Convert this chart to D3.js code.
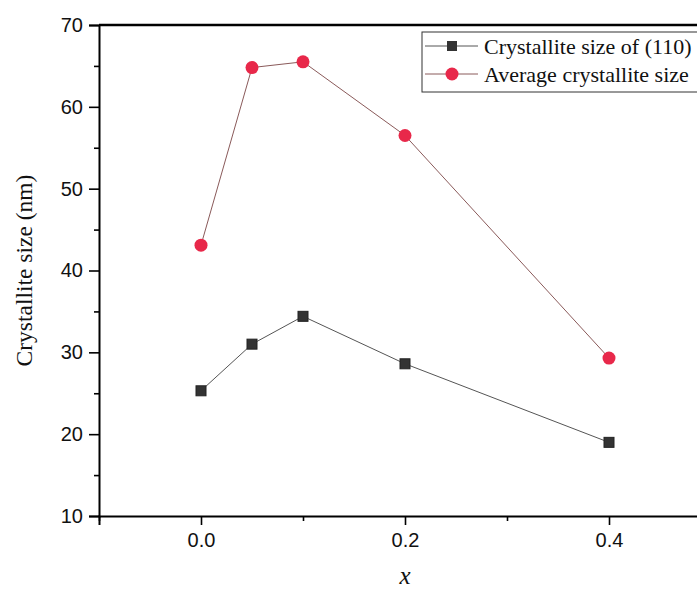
<!DOCTYPE html>
<html><head><meta charset="utf-8">
<script src="https://cdn.jsdelivr.net/npm/d3@7"></script>
<style>body{margin:0;background:#fff}svg{display:block}</style>
</head><body><svg id="c" width="697" height="590"></svg>
<script>
const xValues = [0.0, 0.05, 0.1, 0.2, 0.4];
const size110 = [25.3, 31.0, 34.4, 28.6, 19.0];
const avgSize = [43.1, 64.8, 65.5, 56.5, 29.3];
const seriesNames = ["Crystallite size of (110)", "Average crystallite size"];
const xTicks = [0.0, 0.2, 0.4];
const xMinorTicks = [-0.1, 0.1, 0.3, 0.5];
const yTicks = [10, 20, 30, 40, 50, 60, 70];
const yMinorTicks = [15, 25, 35, 45, 55, 65];

const svg = d3.select("#c");
const L = 99, T = 25, B = 516;
const x = d3.scaleLinear().domain([-0.1, 0.5]).range([L, L + 612]);
const y = d3.scaleLinear().domain([10, 70]).range([B, T]);

// frame top
svg.append("line").attr("x1", L).attr("x2", 711).attr("y1", T).attr("y2", T)
  .attr("stroke", "#000").attr("stroke-width", 2.5);

// axes
const yAxis = d3.axisLeft(y).tickValues(yTicks).tickSize(10).tickFormat(d3.format("d"));
const gy = svg.append("g").attr("transform", `translate(${L},0)`).call(yAxis);
svg.append("g").attr("transform", `translate(${L},0)`)
  .call(d3.axisLeft(y).tickValues(yMinorTicks).tickSize(5).tickFormat(""))
  .call(g => g.select(".domain").remove());
const xAxis = d3.axisBottom(x).tickValues(xTicks).tickSize(9).tickFormat(d3.format(".1f"));
const gx = svg.append("g").attr("transform", `translate(0,${B})`).call(xAxis);
svg.append("g").attr("transform", `translate(0,${B})`)
  .call(d3.axisBottom(x).tickValues(xMinorTicks).tickSize(5).tickFormat(""))
  .call(g => g.select(".domain").remove());

svg.selectAll(".domain").attr("stroke-width", 2).attr("stroke", "#000");
svg.selectAll(".tick line").attr("stroke-width", 1.6).attr("stroke", "#000");
gy.attr("font-size", 20);
gx.attr("font-size", 20);
gy.selectAll("text").attr("font-family", "Liberation Sans, Arial, sans-serif").style("font-size", "20px").attr("fill", "#111").attr("x", -16);
gx.selectAll("text").attr("font-family", "Liberation Sans, Arial, sans-serif").style("font-size", "20px").attr("fill", "#111").attr("y", 17);

// axis titles
svg.append("text").attr("transform", `translate(32,${(T + B) / 2}) rotate(-90)`)
  .attr("text-anchor", "middle").attr("font-family", "Liberation Serif, serif").style("font-size", "23.5px")
  .attr("fill", "#111").text("Crystallite size (nm)");
svg.append("text").attr("x", 405).attr("y", 584).attr("text-anchor", "middle")
  .attr("font-family", "Liberation Serif, serif").attr("font-style", "italic").style("font-size", "25px")
  .attr("fill", "#111").text("x");

const line = d3.line();
const blackPts = xValues.map((v, i) => [x(v), y(size110[i])]);
const redPts = xValues.map((v, i) => [x(v), y(avgSize[i])]);
svg.append("path").attr("d", line(blackPts)).attr("fill", "none").attr("stroke", "#555").attr("stroke-width", 1);
svg.append("path").attr("d", line(redPts)).attr("fill", "none").attr("stroke", "#8a5a5a").attr("stroke-width", 1);

svg.selectAll(".sq").data(blackPts).enter().append("rect")
  .attr("x", d => d[0] - 5).attr("y", d => d[1] - 5).attr("width", 10).attr("height", 10)
  .attr("fill", "#333").attr("stroke", "#222").attr("stroke-width", 1);
svg.selectAll(".ci").data(redPts).enter().append("circle")
  .attr("cx", d => d[0]).attr("cy", d => d[1]).attr("r", 6.5)
  .attr("fill", "#e8284a");

// legend
const lg = svg.append("g");
lg.append("rect").attr("x", 422).attr("y", 32).attr("width", 300).attr("height", 60)
  .attr("fill", "#fff").attr("stroke", "#333").attr("stroke-width", 1);
const rows = [46, 74];
rows.forEach((ry, i) => {
  lg.append("line").attr("x1", 425).attr("x2", 478).attr("y1", ry).attr("y2", ry)
    .attr("stroke", i === 0 ? "#555" : "#8a5a5a").attr("stroke-width", 1);
  if (i === 0) {
    lg.append("rect").attr("x", 447).attr("y", ry - 5).attr("width", 10).attr("height", 10).attr("fill", "#333");
  } else {
    lg.append("circle").attr("cx", 452).attr("cy", ry).attr("r", 6.5).attr("fill", "#e8284a");
  }
  lg.append("text").attr("x", 484).attr("y", ry + 8).attr("font-family", "Liberation Serif, serif")
    .style("font-size", "22px").attr("fill", "#111").text(seriesNames[i]);
});
</script></body></html>
